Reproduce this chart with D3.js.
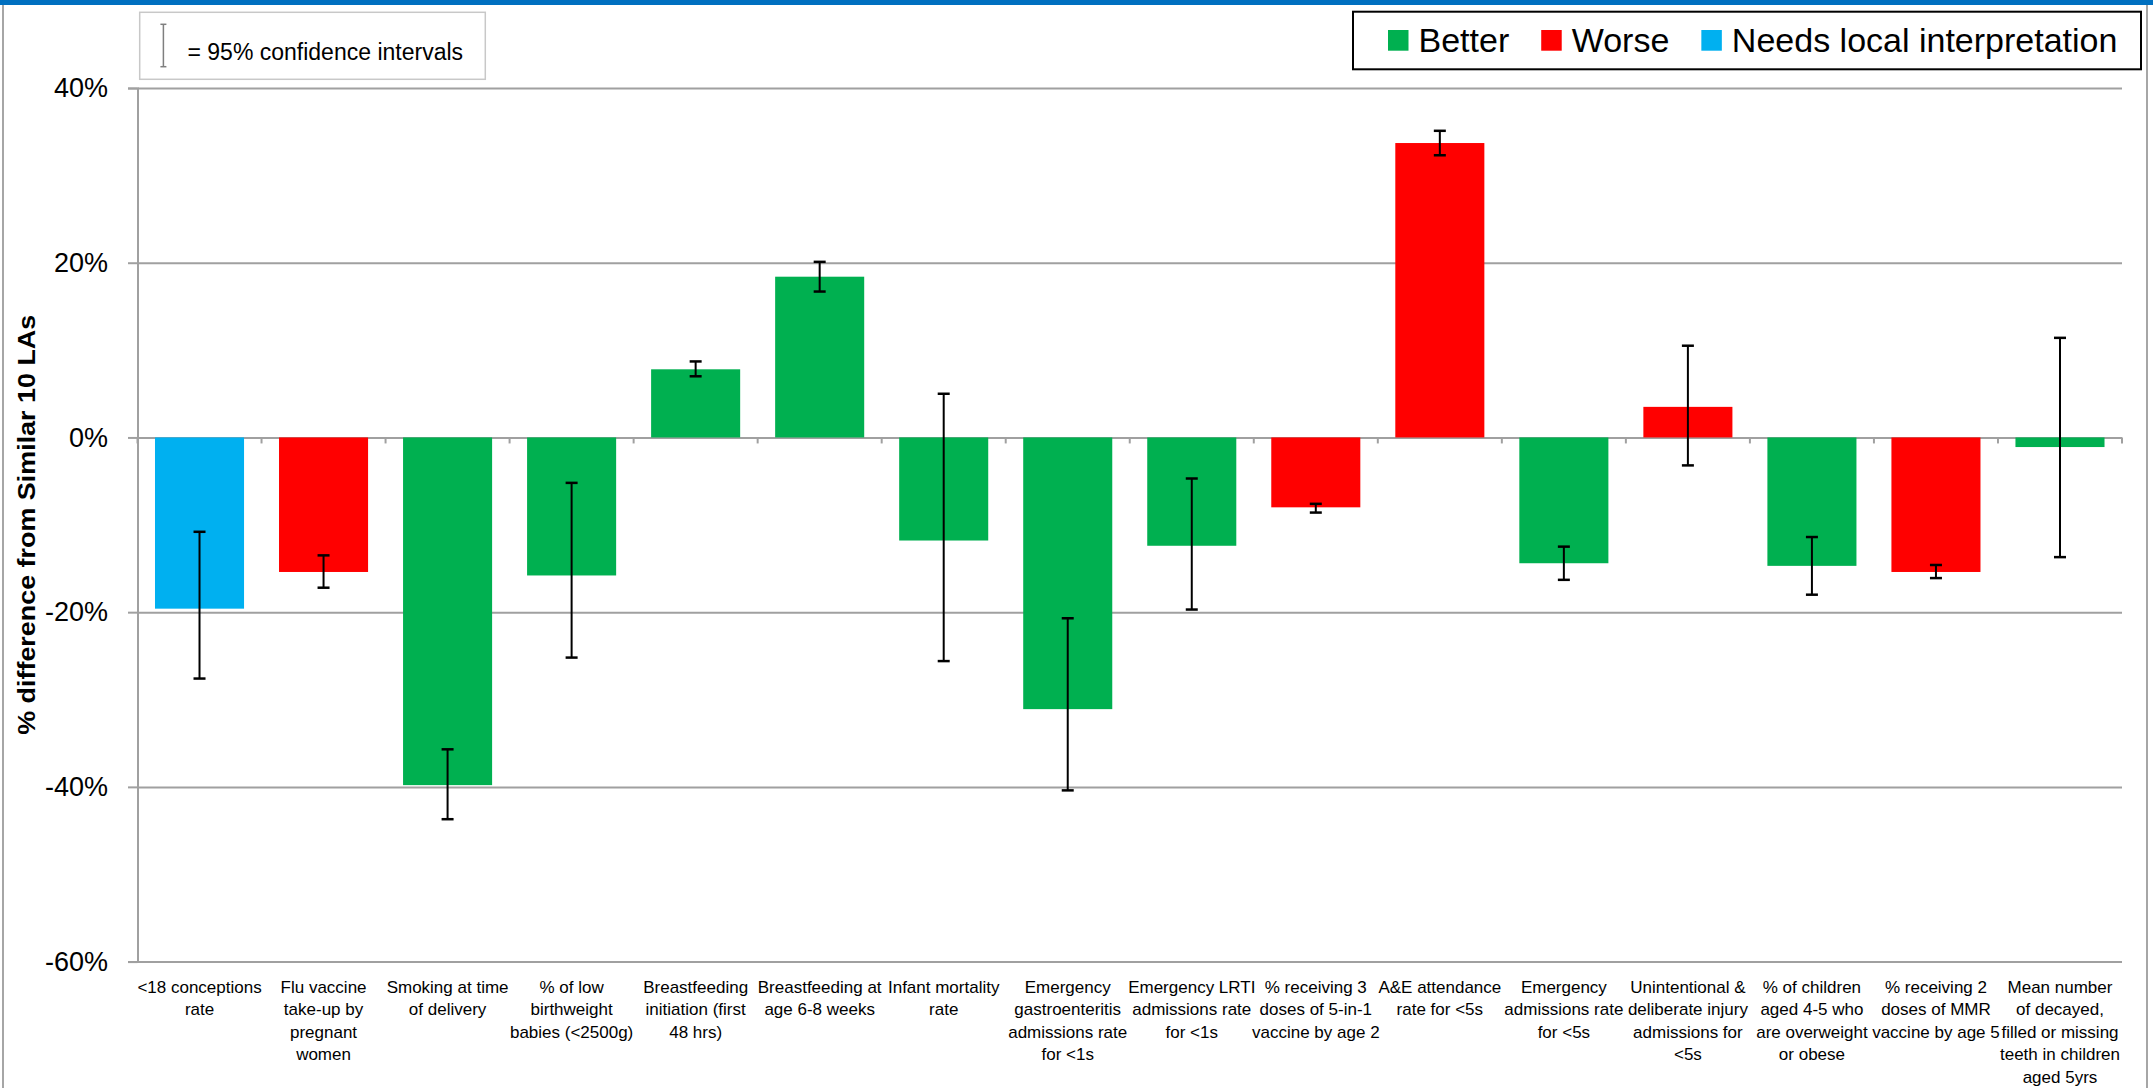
<!DOCTYPE html>
<html>
<head>
<meta charset="utf-8">
<title>% difference from Similar 10 LAs</title>
<script src="https://cdnjs.cloudflare.com/ajax/libs/d3/7.8.5/d3.min.js"></script>
<style>
  body { margin: 0; background: #fff; }
  svg { display: block; font-family: "Liberation Sans", Arial, sans-serif; }
  .grid line { stroke: #a0a0a0; stroke-width: 2; }
  .grid .domain { display: none; }
  .yaxis .domain, .yaxis line { stroke: #a0a0a0; stroke-width: 2; }
  .yaxis text { font-size: 27px; fill: #000; }
  .xlabel { font-size: 17px; fill: #000; }
  .errbar { stroke: #000; stroke-width: 2; }
  .errcap { stroke: #000; stroke-width: 2.5; }
</style>
</head>
<body>
<div id="chart"></div>
<script>
// categories (line breaks as in the original axis labels)
var categories = [
  "<18 conceptions\nrate",
  "Flu vaccine\ntake-up by\npregnant\nwomen",
  "Smoking at time\nof delivery",
  "% of low\nbirthweight\nbabies (<2500g)",
  "Breastfeeding\ninitiation (first\n48 hrs)",
  "Breastfeeding at\nage 6-8 weeks",
  "Infant mortality\nrate",
  "Emergency\ngastroenteritis\nadmissions rate\nfor <1s",
  "Emergency LRTI\nadmissions rate\nfor <1s",
  "% receiving 3\ndoses of 5-in-1\nvaccine by age 2",
  "A&E attendance\nrate for <5s",
  "Emergency\nadmissions rate\nfor <5s",
  "Unintentional &\ndeliberate injury\nadmissions for\n<5s",
  "% of children\naged 4-5 who\nare overweight\nor obese",
  "% receiving 2\ndoses of MMR\nvaccine by age 5",
  "Mean number\nof decayed,\nfilled or missing\nteeth in children\naged 5yrs"
];
var values =  [-19.6, -15.4, -39.8, -15.8, 7.8, 18.4, -11.8, -31.1, -12.4, -8.0, 33.7, -14.4, 3.5, -14.7, -15.4, -1.1];
var ciUpper = [-10.8, -13.5, -35.7, -5.2, 8.7, 20.1, 5.0, -20.7, -4.7, -7.6, 35.1, -12.5, 10.5, -11.4, -14.6, 11.4];
var ciLower = [-27.6, -17.2, -43.7, -25.2, 7.0, 16.7, -25.6, -40.4, -19.7, -8.6, 32.3, -16.3, -3.2, -18.0, -16.1, -13.7];
var ratings = ["Needs local interpretation", "Worse", "Better", "Better", "Better", "Better", "Better", "Better",
  "Better", "Worse", "Worse", "Better", "Worse", "Better", "Worse", "Better"];
var yTicks = [40, 20, 0, -20, -40, -60];
var legendLabels = ["Better", "Worse", "Needs local interpretation"];
var legendColours = ["#00b050", "#ff0000", "#00b0f0"];

var W = 2153, H = 1088;
var margin = { left: 137.5, top: 88, right: 31, bottom: 126.4 };
var plotW = W - margin.left - margin.right;
var plotH = H - margin.top - margin.bottom;

var colour = d3.scaleOrdinal().domain(legendLabels).range(legendColours);

var x = d3.scaleBand()
  .domain(categories)
  .range([0, plotW])
  .paddingInner(0.282)
  .paddingOuter(0.141);

var y = d3.scaleLinear().domain([-60, 40]).range([plotH, 0]);

var svg = d3.select("#chart").append("svg")
  .attr("width", W)
  .attr("height", H);

// frame: blue strip on top, grey side borders
svg.append("rect").attr("x", 0).attr("y", 0).attr("width", W).attr("height", 5).attr("fill", "#0070c0");
svg.append("line").attr("x1", 3).attr("x2", 3).attr("y1", 5).attr("y2", H)
  .attr("stroke", "#a6a6a6").attr("stroke-width", 2);
svg.append("line").attr("x1", 2147).attr("x2", 2147).attr("y1", 5).attr("y2", H)
  .attr("stroke", "#a6a6a6").attr("stroke-width", 2);

var g = svg.append("g")
  .attr("transform", "translate(" + margin.left + "," + margin.top + ")");

// gridlines
g.append("g")
  .attr("class", "grid")
  .call(d3.axisLeft(y).tickValues(yTicks).tickSize(-plotW).tickFormat(""));

// y axis
g.append("g")
  .attr("class", "yaxis")
  .call(d3.axisLeft(y).tickValues(yTicks).tickSize(9.5).tickPadding(20)
    .tickFormat(function (d) { return d + "%"; }));

// category ticks below the zero line
var boundaries = d3.range(categories.length + 1);
g.selectAll(".xtick")
  .data(boundaries)
  .enter()
  .append("line")
  .attr("class", "xtick")
  .attr("x1", function (i) { return i * x.step(); })
  .attr("x2", function (i) { return i * x.step(); })
  .attr("y1", y(0))
  .attr("y2", y(0) + 6)
  .attr("stroke", "#a0a0a0")
  .attr("stroke-width", 2);

// bars
g.selectAll(".bar")
  .data(categories)
  .enter()
  .append("rect")
  .attr("class", "bar")
  .attr("x", function (d) { return x(d); })
  .attr("width", x.bandwidth())
  .attr("y", function (d, i) { return y(Math.max(0, values[i])); })
  .attr("height", function (d, i) { return Math.abs(y(values[i]) - y(0)); })
  .attr("fill", function (d, i) { return colour(ratings[i]); });

// error bars
var err = g.selectAll(".err")
  .data(categories)
  .enter()
  .append("g")
  .attr("class", "err")
  .attr("transform", function (d) { return "translate(" + (x(d) + x.bandwidth() / 2) + ",0)"; });
err.append("line")
  .attr("class", "errbar")
  .attr("y1", function (d, i) { return y(ciUpper[i]); })
  .attr("y2", function (d, i) { return y(ciLower[i]); });
err.append("line")
  .attr("class", "errcap")
  .attr("x1", -6).attr("x2", 6)
  .attr("y1", function (d, i) { return y(ciUpper[i]); })
  .attr("y2", function (d, i) { return y(ciUpper[i]); });
err.append("line")
  .attr("class", "errcap")
  .attr("x1", -6).attr("x2", 6)
  .attr("y1", function (d, i) { return y(ciLower[i]); })
  .attr("y2", function (d, i) { return y(ciLower[i]); });

// category labels
g.selectAll(".xlabel")
  .data(categories)
  .enter()
  .append("text")
  .attr("class", "xlabel")
  .attr("text-anchor", "middle")
  .attr("transform", function (d) { return "translate(" + (x(d) + x.bandwidth() / 2) + "," + (plotH + 31) + ")"; })
  .selectAll("tspan")
  .data(function (d) { return d.split("\n"); })
  .enter()
  .append("tspan")
  .attr("x", 0)
  .attr("dy", function (d, i) { return i === 0 ? 0 : 22.6; })
  .text(function (d) { return d; });

// y axis title
svg.append("text")
  .attr("transform", "translate(35," + (margin.top + plotH / 2) + ") rotate(-90)")
  .attr("text-anchor", "middle")
  .attr("font-size", 24)
  .attr("font-weight", "bold")
  .attr("textLength", 420)
  .attr("lengthAdjust", "spacingAndGlyphs")
  .text("% difference from Similar 10 LAs");

// confidence interval note
var note = svg.append("g");
note.append("rect")
  .attr("x", 139.7).attr("y", 12.3).attr("width", 345.6).attr("height", 67)
  .attr("fill", "#fff").attr("stroke", "#c8c8c8").attr("stroke-width", 1.5);
note.append("line").attr("x1", 163.4).attr("x2", 163.4).attr("y1", 24.3).attr("y2", 66.7)
  .attr("stroke", "#7f7f7f").attr("stroke-width", 1.5);
note.append("line").attr("x1", 160.4).attr("x2", 166.4).attr("y1", 24.3).attr("y2", 24.3)
  .attr("stroke", "#7f7f7f").attr("stroke-width", 1.5);
note.append("line").attr("x1", 160.4).attr("x2", 166.4).attr("y1", 66.7).attr("y2", 66.7)
  .attr("stroke", "#7f7f7f").attr("stroke-width", 1.5);
note.append("text")
  .attr("x", 187.5).attr("y", 60)
  .attr("font-size", 23)
  .text("= 95% confidence intervals");

// colour legend
var legend = svg.append("g");
legend.append("rect")
  .attr("x", 1353).attr("y", 11.7).attr("width", 788).attr("height", 57.6)
  .attr("fill", "#fff").attr("stroke", "#000").attr("stroke-width", 2);
var lx = 1388;
legendLabels.forEach(function (label, i) {
  legend.append("rect")
    .attr("x", lx).attr("y", 30).attr("width", 20.5).attr("height", 20.7)
    .attr("fill", colour(label));
  var t = legend.append("text")
    .attr("x", lx + 30.5).attr("y", 51.5)
    .attr("font-size", 34)
    .text(label);
  lx = lx + 30.5 + t.node().getComputedTextLength() + 32;
});
</script>
</body>
</html>
